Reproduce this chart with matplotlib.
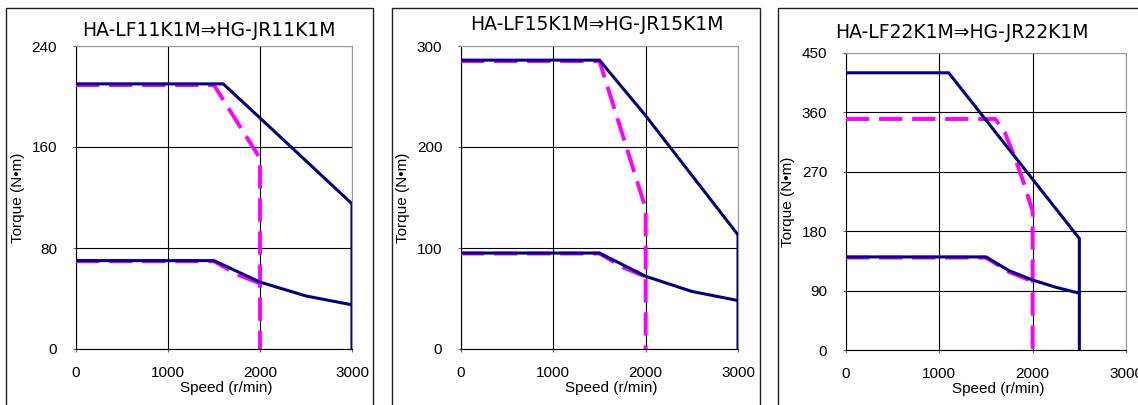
import matplotlib.pyplot as plt
from matplotlib.patches import Rectangle

plt.rcParams['font.family'] = ['Liberation Sans', 'DejaVu Sans']

# Panel titles
titles = ['HA-LF11K1M⇒HG-JR11K1M', 'HA-LF15K1M⇒HG-JR15K1M', 'HA-LF22K1M⇒HG-JR22K1M']

# Y axis ticks for each panel
yticks_11 = [0, 80, 160, 240]
yticks_15 = [0, 100, 200, 300]
yticks_22 = [0, 90, 180, 270, 360, 450]
xticks = [0, 1000, 2000, 3000]

# 11kW: HG-JR (solid) max / continuous torque
jr11_max_x = [0, 1600, 2000, 2500, 3000, 3000]
jr11_max_y = [210, 210, 183, 149, 115, 0]
jr11_cont_x = [0, 1500, 2000, 2500, 3000]
jr11_cont_y = [70, 70, 53, 42, 35]
# 11kW: HA-LF (dashed)
lf11_max_x = [0, 1500, 2000, 2000]
lf11_max_y = [209, 209, 151, 0]
lf11_cont_x = [0, 1500, 1750, 2000]
lf11_cont_y = [69.5, 69.5, 59, 52]

# 15kW
jr15_max_x = [0, 1500, 2000, 2500, 3000, 3000]
jr15_max_y = [286, 286, 231, 172, 113, 0]
jr15_cont_x = [0, 1500, 2000, 2500, 3000]
jr15_cont_y = [95, 95, 72, 57, 48]
lf15_max_x = [0, 1500, 2000, 2000]
lf15_max_y = [285, 285, 139, 0]
lf15_cont_x = [0, 1500, 1750, 2000]
lf15_cont_y = [94.5, 94.5, 81, 71.5]

# 22kW
jr22_max_x = [0, 1100, 2500, 2500]
jr22_max_y = [420, 420, 169, 0]
jr22_cont_x = [0, 1500, 1750, 2000, 2250, 2500]
jr22_cont_y = [141, 141, 120, 106, 95, 86]
lf22_max_x = [0, 1600, 1700, 1800, 1900, 2000, 2000]
lf22_max_y = [350, 350, 330, 295, 255, 210, 0]
lf22_cont_x = [0, 1500, 1750, 2000]
lf22_cont_y = [140, 140, 118, 104]

panels = [
    (titles[0], yticks_11, (jr11_max_x, jr11_max_y), (jr11_cont_x, jr11_cont_y),
     (lf11_max_x, lf11_max_y), (lf11_cont_x, lf11_cont_y)),
    (titles[1], yticks_15, (jr15_max_x, jr15_max_y), (jr15_cont_x, jr15_cont_y),
     (lf15_max_x, lf15_max_y), (lf15_cont_x, lf15_cont_y)),
    (titles[2], yticks_22, (jr22_max_x, jr22_max_y), (jr22_cont_x, jr22_cont_y),
     (lf22_max_x, lf22_max_y), (lf22_cont_x, lf22_cont_y)),
]

W, H = 1138, 405
fig = plt.figure(figsize=(W / 100, H / 100), dpi=100)

# axes boxes in pixels: left, top, right, bottom
boxes = [(76, 46, 352, 349), (461, 46, 738, 349), (846, 53, 1126, 350)]
frames = [(6, 373), (392, 760), (778, 1160)]
title_pos = [(209, 30), (597, 25), (962, 32)]

for (title, yt, jmax, jcont, lmax, lcont), box, fr, tp in zip(panels, boxes, frames, title_pos):
    l, t, r, b = box
    ax = fig.add_axes([l / W, (H - b) / H, (r - l) / W, (b - t) / H])

    ax.plot(lmax[0], lmax[1], color='#FF00FF', lw=2.8, dashes=(6, 2.5), zorder=3)
    ax.plot(lcont[0], lcont[1], color='#FF00FF', lw=2.8, dashes=(6, 2.5), zorder=3)
    ax.plot(jmax[0], jmax[1], color='#000080', lw=2.2, zorder=4, solid_joinstyle='miter')
    ax.plot(jcont[0], jcont[1], color='#000080', lw=2.2, zorder=4)

    ax.set_xlim(0, 3000)
    ax.set_ylim(0, yt[-1])
    ax.set_xticks(xticks)
    ax.set_yticks(yt)
    ax.grid(True, color='black', lw=0.8)
    ax.set_axisbelow(True)
    ax.tick_params(labelsize=11, length=2.5, color='#666666', pad=10)
    ax.tick_params(axis='y', pad=11)
    for s in ['top', 'right']:
        ax.spines[s].set_color('#999999')
    for s in ['left', 'bottom']:
        ax.spines[s].set_color('black')

    ax.set_xlabel('Speed (r/min)', fontsize=11)
    ax.xaxis.set_label_coords(0.5 + 12 / (r - l), -32 / (b - t))
    ax.set_ylabel('Torque (N•m)', fontsize=11)
    ax.yaxis.set_label_coords(-51 / (r - l), 0.5)

    fig.text(tp[0] / W, 1 - tp[1] / H, title, fontsize=13.5, ha='center', va='center',
             family=['DejaVu Sans'])

    fig.add_artist(Rectangle((fr[0] / W, -0.1), (fr[1] - fr[0]) / W, 1.1 - 8 / H,
                             transform=fig.transFigure, fill=False, ec='#222222', lw=1.0))

fig.savefig('out.png', dpi=100)
